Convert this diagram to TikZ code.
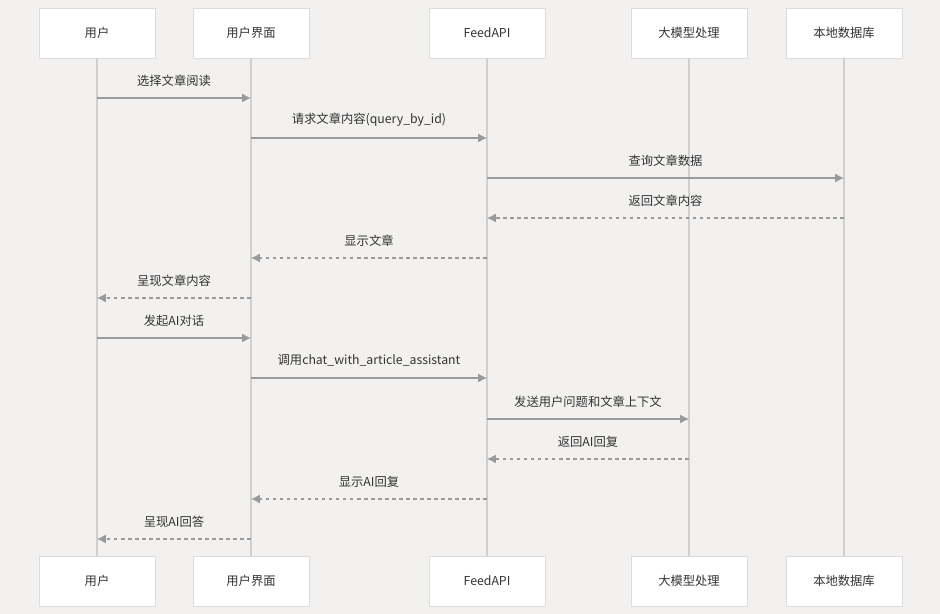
\documentclass[tikz,border=0pt]{standalone}
\usepackage{fontspec}
\setmainfont{Noto Sans CJK SC}
\usetikzlibrary{arrows.meta}
\definecolor{seqBg}{HTML}{f2f1ef}
\definecolor{seqBox}{HTML}{ffffff}
\definecolor{seqBorder}{HTML}{dcdcdc}
\definecolor{seqLife}{HTML}{cfcfcf}
\definecolor{seqArrow}{HTML}{9a9a9a}
\definecolor{seqText}{HTML}{333333}
\tikzset{
    actor/.style={draw=seqBorder, fill=seqBox, minimum width=2.32cm, minimum height=1cm, text=seqText, font=\fontsize{7}{8}\selectfont},
    life/.style={seqLife, line width=0.6pt},
    call/.style={-{Latex[length=5pt,width=5pt]}, seqArrow, line width=0.6pt},
    reply/.style={call, dashed, dash pattern=on 2pt off 2pt},
    lbl/.style={above=3pt, text=seqText, font=\fontsize{7}{8}\selectfont}
}
\begin{document}
\begin{tikzpicture}[x=0.02cm, y=-0.02cm]
    \fill[seqBg] (0, 0) rectangle (940, 614);
    % lifelines and participants
    \foreach \name/\x/\txt in {user/97/用户, ui/251/用户界面, api/487/FeedAPI, llm/689/大模型处理, db/844/本地数据库} {
        \node[actor] (\name-top) at (\x, 33) {\txt};
        \node[actor] (\name-bot) at (\x, 581) {\txt};
        \draw[life] (\name-top) -- (\name-bot);
    }
    % message rows
    \foreach \i/\y in {1/98, 2/138, 3/178, 4/218, 5/258, 6/298, 7/338, 8/378, 9/419, 10/459, 11/499, 12/539}
        \coordinate (m\i) at (0, \y);

    \draw[call] (user-top |- m1) -- node[lbl]{选择文章阅读} (ui-top |- m1);
    \draw[call] (ui-top |- m2) -- node[lbl]{请求文章内容(query\_by\_id)} (api-top |- m2);
    \draw[call] (api-top |- m3) -- node[lbl]{查询文章数据} (db-top |- m3);
    \draw[reply] (db-top |- m4) -- node[lbl]{返回文章内容} (api-top |- m4);
    \draw[reply] (api-top |- m5) -- node[lbl]{显示文章} (ui-top |- m5);
    \draw[reply] (ui-top |- m6) -- node[lbl]{呈现文章内容} (user-top |- m6);
    \draw[call] (user-top |- m7) -- node[lbl]{发起AI对话} (ui-top |- m7);
    \draw[call] (ui-top |- m8) -- node[lbl]{调用chat\_with\_article\_assistant} (api-top |- m8);
    \draw[call] (api-top |- m9) -- node[lbl]{发送用户问题和文章上下文} (llm-top |- m9);
    \draw[reply] (llm-top |- m10) -- node[lbl]{返回AI回复} (api-top |- m10);
    \draw[reply] (api-top |- m11) -- node[lbl]{显示AI回复} (ui-top |- m11);
    \draw[reply] (ui-top |- m12) -- node[lbl]{呈现AI回答} (user-top |- m12);
\end{tikzpicture}
\end{document}
